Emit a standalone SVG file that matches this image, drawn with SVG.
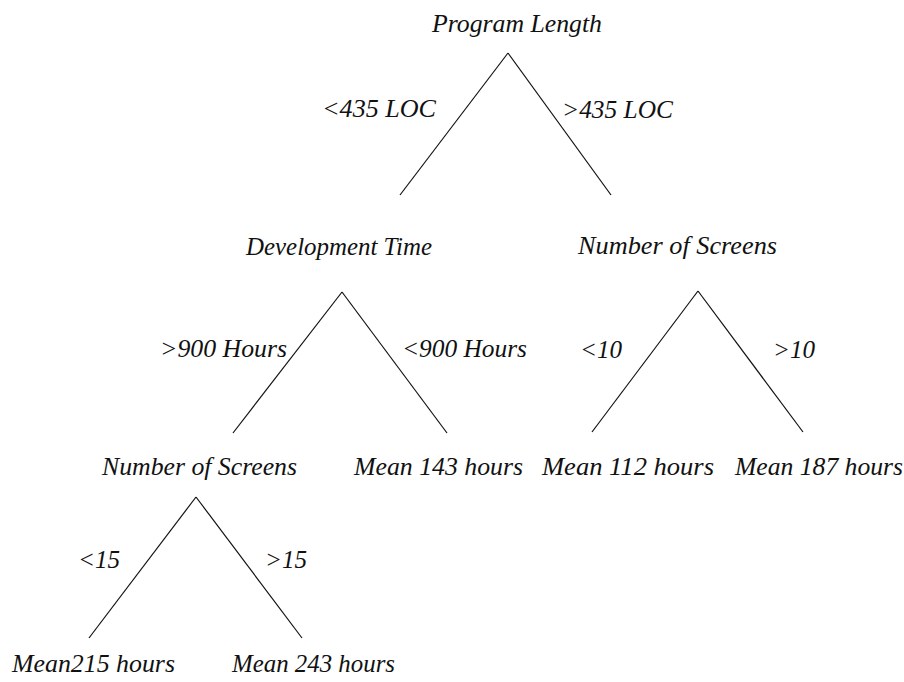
<svg xmlns="http://www.w3.org/2000/svg" width="904" height="682" viewBox="0 0 904 682">
<style>
text{font-family:"Liberation Serif","Times New Roman",serif;font-style:italic;font-size:25px;fill:#111}
.c line{stroke:#111;stroke-width:1.2;fill:none}
</style>
<rect width="904" height="682" fill="#fff"/>
<g class="c" id="connectors">
<line x1="508" y1="53" x2="400" y2="195"/>
<line x1="508" y1="53" x2="611" y2="195"/>
<line x1="342" y1="292" x2="233" y2="433"/>
<line x1="342" y1="292" x2="447" y2="433"/>
<line x1="698" y1="291" x2="592" y2="432"/>
<line x1="698" y1="291" x2="803" y2="432"/>
<line x1="196" y1="497" x2="89" y2="638"/>
<line x1="196" y1="497" x2="302" y2="638"/>
<text x="322" y="117" textLength="114" lengthAdjust="spacingAndGlyphs">&lt;435 LOC</text>
<text x="562" y="118" textLength="111" lengthAdjust="spacingAndGlyphs">&gt;435 LOC</text>
<text x="160" y="357" textLength="127" lengthAdjust="spacingAndGlyphs">&gt;900 Hours</text>
<text x="402" y="357" textLength="125" lengthAdjust="spacingAndGlyphs">&lt;900 Hours</text>
<text x="580" y="358" textLength="42" lengthAdjust="spacingAndGlyphs">&lt;10</text>
<text x="773" y="358" textLength="42" lengthAdjust="spacingAndGlyphs">&gt;10</text>
<text x="78" y="568" textLength="42" lengthAdjust="spacingAndGlyphs">&lt;15</text>
<text x="265" y="568" textLength="42" lengthAdjust="spacingAndGlyphs">&gt;15</text>
</g>
<g id="root"><text x="432" y="32" textLength="170" lengthAdjust="spacingAndGlyphs">Program Length</text></g>
<g id="devtime"><text x="246" y="255" textLength="186" lengthAdjust="spacingAndGlyphs">Development Time</text></g>
<g id="screens1"><text x="578" y="254" textLength="199" lengthAdjust="spacingAndGlyphs">Number of Screens</text></g>
<g id="screens2"><text x="102" y="475" textLength="195" lengthAdjust="spacingAndGlyphs">Number of Screens</text></g>
<g id="mean143"><text x="354" y="475" textLength="169" lengthAdjust="spacingAndGlyphs">Mean 143 hours</text></g>
<g id="mean112"><text x="542" y="475" textLength="172" lengthAdjust="spacingAndGlyphs">Mean 112 hours</text></g>
<g id="mean187"><text x="735" y="475" textLength="168" lengthAdjust="spacingAndGlyphs">Mean 187 hours</text></g>
<g id="mean215"><text x="12" y="672" textLength="163" lengthAdjust="spacingAndGlyphs">Mean215 hours</text></g>
<g id="mean243"><text x="232" y="672" textLength="163" lengthAdjust="spacingAndGlyphs">Mean 243 hours</text></g>
</svg>
